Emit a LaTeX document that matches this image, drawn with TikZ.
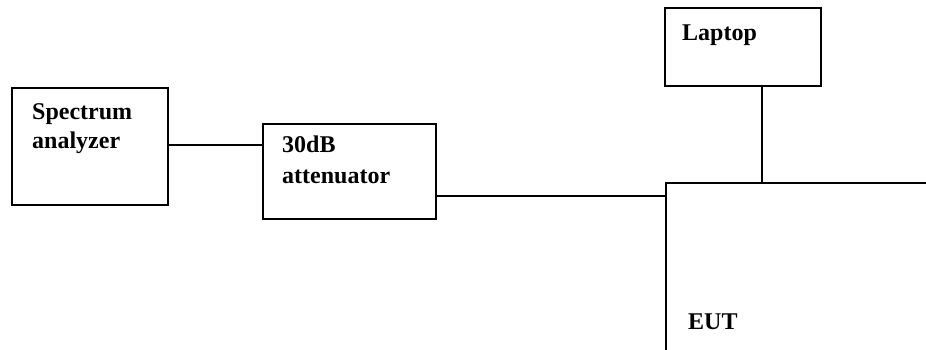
\documentclass[tikz,border=0pt]{standalone}
\usepackage{fontspec}
\setmainfont{Liberation Serif}
\begin{document}
\begin{tikzpicture}[x=1pt,y=1pt,
  box/.style={draw, line width=2pt, rectangle, anchor=north west, inner sep=0pt},
  wire/.style={line width=2pt},
  lbl/.style={anchor=base west, inner sep=0pt, font=\fontsize{24}{30}\selectfont\bfseries}]
\useasboundingbox (0,0) rectangle (926,-350);
% boxes
\node[box, minimum width=156pt, minimum height=117pt] (sa) at (11,-87) {};
\node[box, minimum width=173pt, minimum height=95pt] (att) at (262,-123) {};
\node[box, minimum width=156pt, minimum height=78pt] (lap) at (664,-7) {};
\node[box, minimum width=320pt, minimum height=240pt] (eut) at (665,-182) {};
% labels
\node[lbl] (t1) at (32,-120) {Spectrum};
\node[lbl] (t2) at (32,-149) {analyzer};
\node[lbl] (t3) at (282,-153) {30dB};
\node[lbl] (t4) at (282,-183) {attenuator};
\node[lbl] (t5) at (682,-41) {Laptop};
\node[lbl] (t6) at (688,-329) {EUT};
% connectors
\coordinate (y1) at (0,-145);
\coordinate (y2) at (0,-196);
\coordinate (x1) at (762,0);
\draw[wire] (sa.east |- y1) -- (att.west |- y1);
\draw[wire] (att.east |- y2) -- (eut.west |- y2);
\draw[wire] (lap.south -| x1) -- (eut.north -| x1);
\end{tikzpicture}
\end{document}
